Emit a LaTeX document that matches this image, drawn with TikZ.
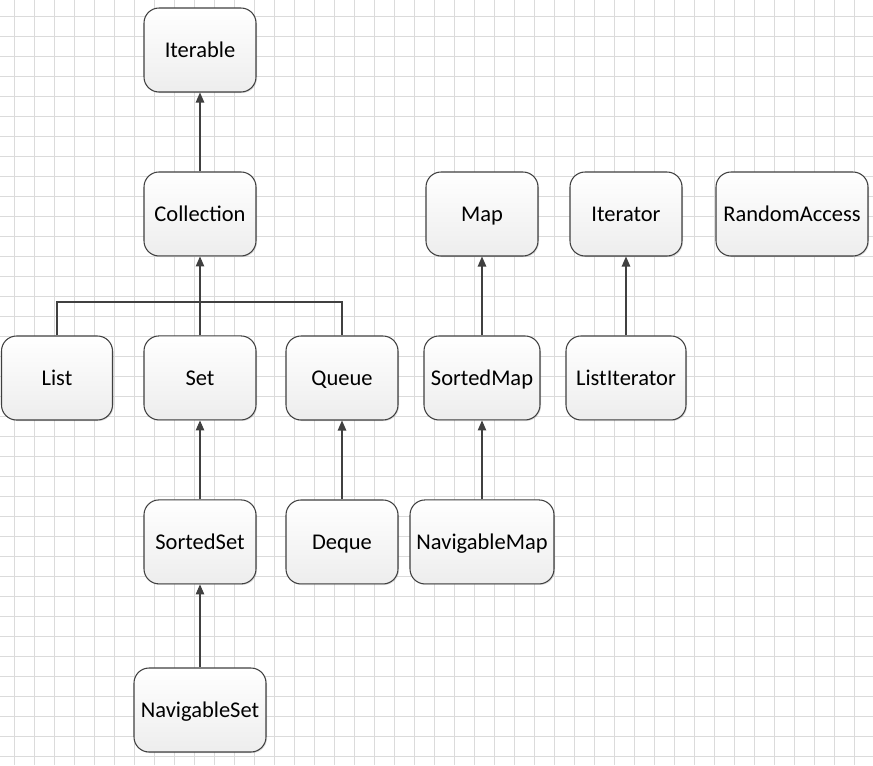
\documentclass[tikz,border=0pt]{standalone}
\usepackage{fontspec}
\setmainfont{Carlito}
\usepackage{tikz}
\usetikzlibrary{shapes,arrows.meta,positioning,calc,shadows}
\tikzstyle{iface} = [rectangle, rounded corners=0.3cm, minimum width=2.24cm, minimum height=1.68cm, inner xsep=2pt, text centered, text height=8.3pt, text depth=0pt, draw=black!75, line width=0.6pt, top color=white, bottom color=black!7, drop shadow={shadow xshift=0.6pt, shadow yshift=-0.6pt, opacity=0.25}, font=\fontsize{12.8}{15}\selectfont]
\tikzstyle{arrow} = [line width=0.6pt, draw=black!75, -{Triangle[length=2mm, width=1.7mm]}]
\tikzstyle{line} = [line width=0.6pt, draw=black!75]
\tikzstyle{gridline} = [line width=0.5pt, draw=black!14]

\begin{document}
\begin{tikzpicture}[x=0.02cm, y=-0.02cm, node distance=3.28cm]
        % Fundo
        \useasboundingbox (0,0) rectangle (873,765);
        \fill[white] (0,0) rectangle (873,765);
        \foreach \gx in {14,34,...,873} \draw[gridline] (\gx,0) -- (\gx,765);
        \foreach \gy in {16,36,...,765} \draw[gridline] (0,\gy) -- (873,\gy);

        % Blocos
        \node (iterable) [iface] at (200,50) {Iterable};
        \node (collection) [iface, below of=iterable] {Collection};
        \node (set) [iface, below of=collection] {Set};
        \node (list) [iface, minimum width=2.22cm] at (57,378) {List};
        \node (queue) [iface] at (342,378) {Queue};
        \node (sortedset) [iface, below of=set] {SortedSet};
        \node (deque) [iface, below of=queue] {Deque};
        \node (navset) [iface, minimum width=2.64cm] at (200,710) {NavigableSet};
        \node (map) [iface] at (482,214) {Map};
        \node (sortedmap) [iface, minimum width=2.32cm, below of=map] {SortedMap};
        \node (navmap) [iface, minimum width=2.88cm, below of=sortedmap] {NavigableMap};
        \node (iterator) [iface] at (626,214) {Iterator};
        \node (listiter) [iface, minimum width=2.4cm, below of=iterator] {ListIterator};
        \node (random) [iface, minimum width=3.04cm] at (792,214) {RandomAccess};

        % Linhas
        \coordinate (bus) at (200,302);
        \draw [arrow] (collection) -- (iterable);
        \draw [arrow] (set) -- (collection);
        \draw [line] (list.north) |- (bus) -| (queue.north);
        \draw [arrow] (sortedset) -- (set);
        \draw [arrow] (navset) -- (sortedset);
        \draw [arrow] (deque) -- (queue);
        \draw [arrow] (sortedmap) -- (map);
        \draw [arrow] (navmap) -- (sortedmap);
        \draw [arrow] (listiter) -- (iterator);
    \end{tikzpicture}
\end{document}
